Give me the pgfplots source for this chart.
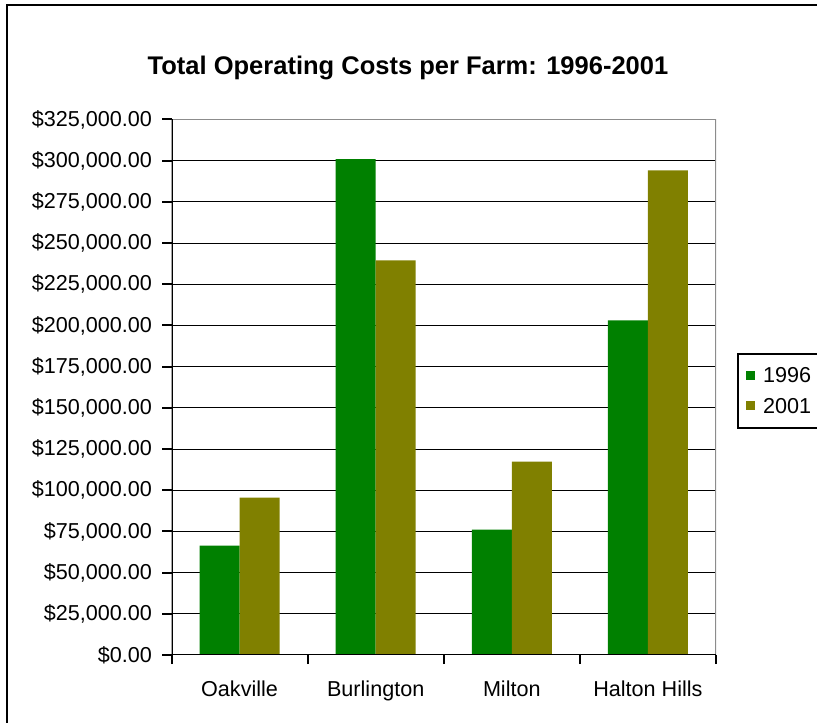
\documentclass[border=0pt]{standalone}
\usepackage{pgfplots}
\pgfplotsset{compat=1.18}
\usepackage{fontspec}
\setmainfont{Liberation Sans}

\definecolor{c1996}{HTML}{008000}
\definecolor{c2001}{HTML}{808000}

\pgfplotstableread{
idx  y1996   y2001
0    66400   95500
1    301000  239500
2    76100   117400
3    203100  294100
}\costs

\begin{document}
\begin{tikzpicture}[x=1pt,y=1pt]
\clip (0,0) rectangle (817,723);
\useasboundingbox (0,0) rectangle (817,723);
% chart frame (runs off the right and bottom edges)
\draw[line width=2pt] (7,-10) -- (7,717.5) -- (830,717.5);
% title
\node[font=\fontsize{25.5}{30}\selectfont\bfseries] at (408,655) {Total Operating Costs per Farm: 1996-2001};

\begin{axis}[
    at={(171.5pt,68pt)}, anchor=south west,
    scale only axis,
    width=544.5pt, height=535.5pt,
    ybar=0pt, bar width=40pt,
    xmin=-0.5, xmax=3.5,
    ymin=0, ymax=325000,
    xtick={0,1,2,3},
    xticklabels={Oakville,Burlington,Milton,Halton Hills},
    minor xtick={-0.5,0.5,1.5,2.5,3.5},
    ytick={0,25000,...,325000},
    scaled y ticks=false,
    yticklabel={\$\pgfmathprintnumber[fixed,fixed zerofill,precision=2,1000 sep={,}]{\tick}},
    /pgf/number format/assume math mode=true,
    tick label style={font=\fontsize{21.6}{26}\selectfont, text=black},
    yticklabel style={anchor=east, xshift=-7pt},
    xticklabel style={anchor=base, yshift=-32pt},
    tick align=outside,
    xtick pos=bottom, ytick pos=left,
    major x tick style={draw=none},
    minor x tick style={line width=2pt, black},
    minor tick length=9pt,
    major y tick style={line width=2pt, black},
    major tick length=9pt,
    ymajorgrids=true,
    grid style={line width=1pt, black},
    axis line style={draw=none},
    legend style={at={(1,1)}, anchor=north west, xshift=21pt, yshift=-234pt,
        draw=black, line width=2pt, font=\fontsize{21.6}{26}\selectfont,
        inner xsep=8pt, inner ysep=13pt, row sep=14pt,
        legend cell align=left,
        nodes={inner xsep=8pt, inner ysep=0pt}},
    legend image code/.code={\fill[#1,draw=none] (0pt,-4pt) rectangle (9pt,5pt);},
]
\addplot[fill=c1996, draw=none] table[x=idx,y=y1996] {\costs};
\addplot[fill=c2001, draw=none] table[x=idx,y=y2001] {\costs};
\legend{1996\hspace*{20pt},2001\hspace*{20pt}}
% plot area edges
\draw[gray!90, line width=1.5pt] (rel axis cs:0,1) -- (rel axis cs:1,1) -- (rel axis cs:1,0);
\draw[black, line width=2pt] (rel axis cs:0,1) -- (rel axis cs:0,0) -- (rel axis cs:1,0);
\end{axis}
\end{tikzpicture}
\end{document}
